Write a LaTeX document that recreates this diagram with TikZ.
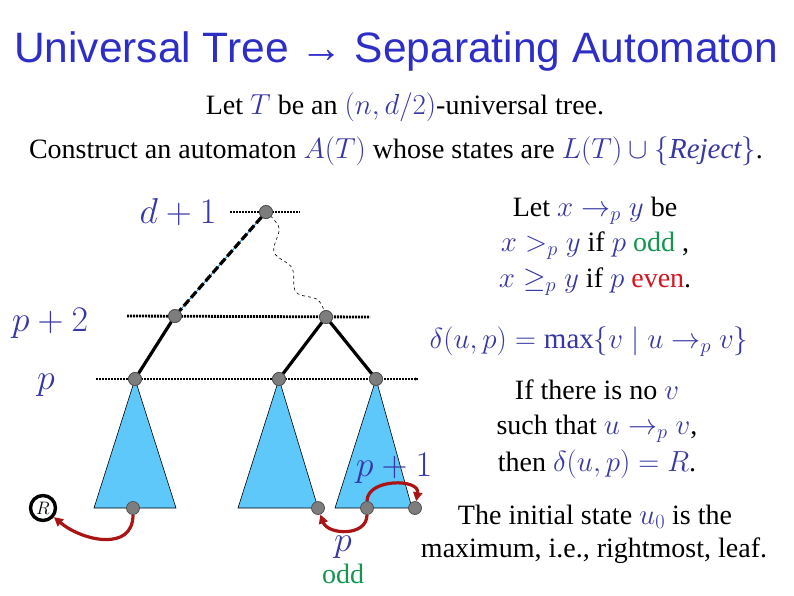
\RequirePackage{fix-cm}
\documentclass[tikz,border=0pt]{standalone}
\usepackage{fontspec}
\setmainfont{Liberation Serif}
\newfontfamily\titlefont{Liberation Sans}
\usetikzlibrary{arrows.meta}
\definecolor{titleblue}{RGB}{45,45,200}
\definecolor{mblue}{RGB}{55,55,165}
\definecolor{oddgreen}{RGB}{20,150,80}
\definecolor{evenred}{RGB}{215,20,30}
\definecolor{arrred}{RGB}{170,20,20}
\definecolor{trifill}{RGB}{95,200,250}
\definecolor{nodegray}{RGB}{125,125,125}
\newcommand{\mb}[1]{{\fontsize{29}{33}\selectfont\textcolor{mblue}{$#1$}}}
\begin{document}
\begin{tikzpicture}[x=1pt,y=-1pt,
  txt/.style={inner sep=0pt, anchor=base, font=\fontsize{28}{32}\selectfont},
  lvl/.style={inner sep=0pt, anchor=base, font=\fontsize{36}{40}\selectfont, text=mblue},
  gnode/.style={circle, fill=nodegray, draw=black!70, line width=0.7pt, minimum size=13pt, inner sep=0pt},
  levelline/.style={line width=2.8pt, dash pattern=on 2pt off 1pt},
  edge/.style={line width=3.2pt},
  tri/.style={fill=trifill, draw=black, line width=0.6pt},
  redarr/.style={arrred, line width=3.2pt, -{Triangle[length=9pt,width=9pt]}}]
\useasboundingbox (0,0) rectangle (794,595);
% title
\node[inner sep=0pt, anchor=base, font=\titlefont\fontsize{42.5}{46}\selectfont, text=titleblue] (title) at (396,62) {Universal Tree → Separating Automaton};
\node[txt] (t1) at (405,114) {Let \mb{T} be an \mb{(n,d/2)}-universal tree.};
\node[txt] (t2) at (396,158) {Construct an automaton \mb{A(T)} whose states are \mb{L(T)\cup\{\mathit{Reject}\}}.};
% right text
\node[txt] (r1) at (595,216) {Let \mb{x\rightarrow_p y} be};
\node[txt] (r2) at (595,251) {\mb{x>_p y} if \mb{p} \textcolor{oddgreen}{odd} ,};
\node[txt] (r3) at (595,287) {\mb{x\geq_p y} if \mb{p} \textcolor{evenred}{even}.};
\node[txt] (r4) at (589,348) {\mb{\delta(u,p)=\max\{v\mid u\rightarrow_p v\}}};
\node[txt] (r5) at (597,399) {If there is no \mb{v}};
\node[txt] (r6) at (597,434) {such that \mb{u\rightarrow_p v},};
\node[txt] (r7) at (597,471) {then \mb{\delta(u,p)=R}.};
\node[txt] (r8) at (595,524) {The initial state \mb{u_0} is the};
\node[txt] (r9) at (594,557) {maximum, i.e., rightmost, leaf.};
% level labels
\node[lvl] (ld) at (178,223) {$d+1$};
\node[lvl] (lp2) at (50,331) {$p+2$};
\node[lvl] (lp) at (46,389) {$p$};
% coordinates
\coordinate (d1L) at (230,212); \coordinate (d1R) at (300,212);
\coordinate (p2L) at (127,316); \coordinate (p2R) at (370,317);
\coordinate (pL) at (96,379); \coordinate (pR) at (418,379);
% triangles
\filldraw[tri] (135,379) -- (94,508) -- (176,508) -- cycle;
\filldraw[tri] (279,379) -- (238,508) -- (318,508) -- cycle;
\filldraw[tri] (376,379) -- (335,508) -- (412,508) -- cycle;
% level lines
\draw[levelline] (d1L) -- (d1R);
\draw[levelline] (p2L) -- (p2R);
\draw[levelline] (pL) -- (pR);
\draw[line width=0.6pt, -{Triangle[length=3pt,width=3pt]}] (415,379) -- (pR);
% nodes
\node[gnode] (top) at (266,212) {};
\node[gnode] (a) at (175,316) {};
\node[gnode] (b) at (326,317) {};
\node[gnode] (c1) at (135,379) {};
\node[gnode] (c2) at (279,379) {};
\node[gnode] (c3) at (376,379) {};
% edges
\draw[cyan!70!blue, line width=0.8pt] (top) -- (a);
\draw[edge, dash pattern=on 8pt off 3pt] (top) -- (a);
\draw[dashed, line width=0.6pt] plot[smooth, tension=0.6] coordinates {(top) (279,228) (274,252) (292,268) (296,292) (318,300) (b)};
\draw[edge] (a) -- (c1);
\draw[edge] (b) -- (c2);
\draw[edge] (b) -- (c3);
\node[gnode] at (266,212) {};
\node[gnode] at (175,316) {};
\node[gnode] at (326,317) {};
\node[gnode] at (135,379) {};
\node[gnode] at (279,379) {};
\node[gnode] at (376,379) {};
% leaves
\node[gnode] (l1) at (133,508) {};
\node[gnode] (l2) at (318,508) {};
\node[gnode] (l3) at (367,508) {};
\node[gnode] (l4) at (415,508) {};
\node[circle, draw=black, line width=3.4pt, fill=white, minimum size=25pt, inner sep=0pt, font=\fontsize{18}{20}\selectfont] (R) at (43,508) {$R$};
% red arrows
\draw[redarr] (l1) to[out=-90, in=-40, looseness=1.2] (R);
\draw[redarr] (l3) to[out=-90, in=-70, looseness=1.2] (l2);
\draw[redarr] (l3) to[out=90, in=80, looseness=1.2] (l4);
% arrow labels
\node[lvl] (lp1) at (394,476) {$p+1$};
\node[lvl] (lpo) at (343,551) {$p$};
\node[txt, text=oddgreen] (lodd) at (343,583) {odd};
\end{tikzpicture}
\end{document}
